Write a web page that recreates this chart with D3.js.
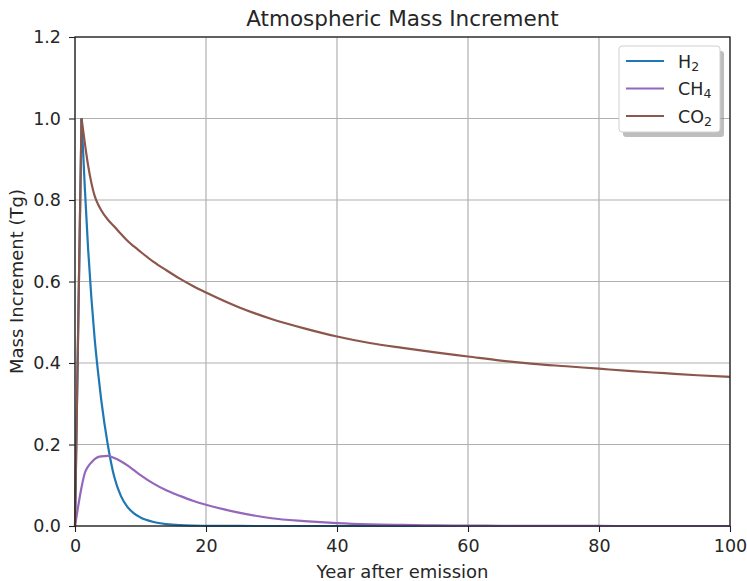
<!DOCTYPE html>
<html>
<head>
<meta charset="utf-8">
<style>
  body { margin: 0; background: #fff; }
  text { font-family: "DejaVu Sans", sans-serif; fill: #262626; }
</style>
<script src="https://d3js.org/d3.v7.min.js"></script>
</head>
<body>
<svg width="747" height="581"></svg>
<script>
// years after emission (finer steps early on)
var years = [0, 0.5, 1, 1.5, 2, 2.5, 3, 3.5, 4, 5, 6, 7, 8, 9, 10, 12, 14, 16, 18, 20,
             25, 30, 35, 40, 45, 50, 55, 60, 65, 70, 75, 80, 85, 90, 95, 100];

var h2  = [0, 0.5, 1.0, 0.83, 0.68, 0.56, 0.46, 0.38, 0.31, 0.20, 0.12, 0.074, 0.047, 0.031, 0.021, 0.0098, 0.0046, 0.0021, 0.001, 0.0005,
           0.0001, 0, 0, 0, 0, 0, 0, 0, 0, 0, 0, 0, 0, 0, 0, 0];
var ch4 = [0, 0.05, 0.095, 0.13, 0.146, 0.156, 0.164, 0.169, 0.171, 0.172, 0.167, 0.159, 0.149, 0.137, 0.125, 0.104, 0.087, 0.074, 0.062, 0.052,
           0.033, 0.019, 0.012, 0.007, 0.004, 0.0026, 0.0016, 0.001, 0.0006, 0.0004, 0.0002, 0.0001, 0, 0, 0, 0];
var co2 = [0, 0.5, 1.0, 0.94, 0.885, 0.842, 0.81, 0.79, 0.775, 0.752, 0.735, 0.717, 0.70, 0.686, 0.673, 0.648, 0.627, 0.607, 0.589, 0.573,
           0.537, 0.508, 0.485, 0.465, 0.449, 0.437, 0.426, 0.416, 0.406, 0.398, 0.392, 0.386, 0.38, 0.375, 0.37, 0.366];

var seriesNames = [["H", "2"], ["CH", "4"], ["CO", "2"]];
var colors = ["#1f77b4", "#9467bd", "#8c564b"];
var xTicks = [0, 20, 40, 60, 80, 100];
var yTicks = [0, 0.2, 0.4, 0.6, 0.8, 1.0, 1.2];

var svg = d3.select("svg"),
    margin = {top: 37, right: 17, bottom: 55, left: 75},
    width = +svg.attr("width") - margin.left - margin.right,
    height = +svg.attr("height") - margin.top - margin.bottom,
    g = svg.append("g").attr("transform", "translate(" + margin.left + "," + margin.top + ")");

var x = d3.scaleLinear().domain([0, 100]).range([0, width]);
var y = d3.scaleLinear().domain([0, 1.2]).range([height, 0]);

// grid
g.append("g").selectAll("line").data(xTicks).enter().append("line")
    .attr("x1", d => x(d)).attr("x2", d => x(d))
    .attr("y1", 0).attr("y2", height)
    .attr("stroke", "#b0b0b0").attr("stroke-width", 1.2);
g.append("g").selectAll("line").data(yTicks).enter().append("line")
    .attr("y1", d => y(d)).attr("y2", d => y(d))
    .attr("x1", 0).attr("x2", width)
    .attr("stroke", "#b0b0b0").attr("stroke-width", 1.2);

// lines: straight rise to year 1, smooth after that
var rise = d3.line()
    .x(function(d) { return x(d[0]); })
    .y(function(d) { return y(d[1]); });
var decay = d3.line()
    .curve(d3.curveMonotoneX)
    .x(function(d) { return x(d[0]); })
    .y(function(d) { return y(d[1]); });

[h2, ch4, co2].forEach(function(vals, i) {
  var pts = years.map(function(yr, j) { return [yr, vals[j]]; });
  var smooth = (i == 1);
  g.append("path")
      .datum(smooth ? pts : pts.filter(function(p) { return p[0] <= 1; }))
      .attr("fill", "none")
      .attr("stroke", colors[i])
      .attr("stroke-width", 2.2)
      .attr("stroke-linejoin", "round")
      .attr("d", smooth ? decay : rise);
  if (!smooth) {
    g.append("path")
        .datum(pts.filter(function(p) { return p[0] >= 1; }))
        .attr("fill", "none")
        .attr("stroke", colors[i])
        .attr("stroke-width", 2.2)
        .attr("stroke-linejoin", "round")
        .attr("d", decay);
  }
});

// axes
var xAxis = g.append("g")
    .attr("transform", "translate(0," + height + ")")
    .call(d3.axisBottom(x).tickValues(xTicks).tickFormat(d3.format("d")).tickSizeOuter(0).tickSize(6).tickPadding(8));
var yAxis = g.append("g")
    .call(d3.axisLeft(y).tickValues(yTicks).tickFormat(d3.format(".1f")).tickSizeOuter(0).tickSize(6).tickPadding(8));
[xAxis, yAxis].forEach(function(a) {
  a.select(".domain").remove();
  a.selectAll(".tick line").attr("stroke", "#222").attr("stroke-width", 1.1);
  a.selectAll(".tick text").style("font-size", "17.5px").attr("fill", "#262626");
});

// frame
g.append("rect")
    .attr("width", width).attr("height", height)
    .attr("fill", "none").attr("stroke", "#222").attr("stroke-width", 1.3);

// title and labels
svg.append("text")
    .attr("x", margin.left + width / 2).attr("y", 26)
    .attr("text-anchor", "middle")
    .style("font-size", "21.5px")
    .text("Atmospheric Mass Increment");
svg.append("text")
    .attr("x", margin.left + width / 2).attr("y", 578)
    .attr("text-anchor", "middle")
    .style("font-size", "18px")
    .text("Year after emission");
svg.append("text")
    .attr("transform", "translate(23," + (margin.top + height / 2) + ") rotate(-90)")
    .attr("text-anchor", "middle")
    .style("font-size", "18px")
    .text("Mass Increment (Tg)");

// legend
var lg = svg.append("g").attr("transform", "translate(619,46)");
lg.append("rect")
    .attr("x", 4).attr("y", 5).attr("width", 101).attr("height", 86).attr("rx", 3)
    .attr("fill", "#888").attr("opacity", 0.55);
lg.append("rect")
    .attr("width", 101).attr("height", 86).attr("rx", 3)
    .attr("fill", "#fff").attr("stroke", "#d0d0d0");
seriesNames.forEach(function(nm, i) {
  var yy = 15 + i * 27.5;
  lg.append("line")
      .attr("x1", 7).attr("x2", 45).attr("y1", yy).attr("y2", yy)
      .attr("stroke", colors[i]).attr("stroke-width", 2.2);
  var t = lg.append("text")
      .attr("x", 59).attr("y", yy + 6.5)
      .style("font-size", "17.5px");
  t.append("tspan").text(nm[0]);
  t.append("tspan").attr("dy", 3).style("font-size", "12.5px").text(nm[1]);
});
</script>
</body>
</html>
